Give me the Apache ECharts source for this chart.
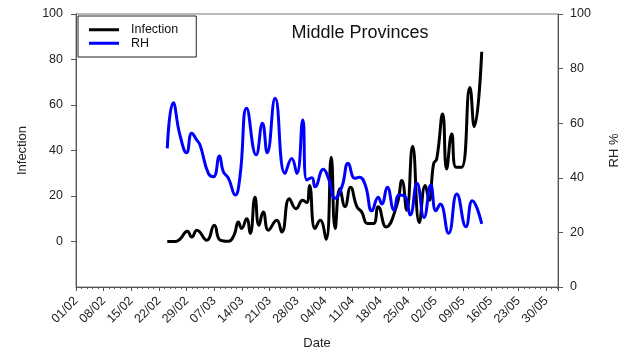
<!DOCTYPE html>
<html>
<head>
<meta charset="utf-8">
<script src="https://cdn.jsdelivr.net/npm/echarts@6/dist/echarts.min.js"></script>
<style>
  html, body { margin: 0; padding: 0; background: #fff; }
  #chart { width: 630px; height: 354px; }
</style>
</head>
<body>
<div id="chart"></div>
<script>
// Days counted from 01/02/2020 (day 0), weekly date ticks
const dateTicks = ['01/02','08/02','15/02','22/02','29/02','07/03','14/03','21/03','28/03',
  '04/04','11/04','18/04','25/04','02/05','09/05','16/05','23/05','30/05'];

// Infection counts (left axis)
const infDays = [23.1, 25.1, 26.3, 28.2, 29.3, 30.6, 33.1, 35.0, 36.5, 38.6, 40.0, 41.1, 41.9,
  43.2, 44.1, 45.3, 46.3, 47.4, 48.7, 50.8, 52.1, 54.0, 55.7, 57.4, 58.4, 59.1, 60.5, 61.8,
  63.3, 64.6, 65.6, 66.8, 68.1, 69.5, 71.1, 72.3, 73.8, 75.3, 76.5, 78.5, 81.2, 82.5, 83.7,
  85.2, 86.9, 88.4, 89.4, 90.5, 91.3, 92.8, 93.8, 95.1, 96.2, 97.6, 99.7, 100.8, 102.7];
const infVals = [0, 0, 1, 4.5, 2, 5, 0.6, 7.1, 0.6, 0.1, 2.8, 8.6, 5.7,
  10, 3.5, 19.5, 7.1, 13, 5, 9.3, 4.2, 18.8, 14.4, 18.1, 17.1, 24.6, 5.7, 9.3,
  1, 37, 5.7, 23.2, 15.3, 23.8, 15.3, 13, 7.9, 7.9, 15.3, 6.4, 15.9, 26.8, 13.7,
  41.9, 8.3, 24.6, 18.1, 34.1, 36.3, 56, 31.9, 47.3, 32.6, 32.6, 67.7, 50.5, 83.4];

// Relative humidity, % (right axis)
const rhDays = [23.1, 24.6, 26.3, 28.0, 29.3, 30.6, 31.4, 33.5, 34.8, 36.3, 37.3, 38.6, 40.3,
  41.5, 43.2, 45.6, 47.2, 48.4, 50.4, 52.9, 54.6, 55.9, 57.4, 58.4, 59.7, 60.5, 62.6, 63.9,
  65.6, 67.3, 68.9, 70.6, 71.7, 73.2, 74.9, 76.5, 77.4, 78.8, 80.5, 81.8, 83.3, 84.6, 86.3,
  88.1, 89.8, 91.1, 92.2, 94.3, 96.4, 98.7, 100.3, 102.7];
const rhVals = [50.8, 67.5, 55.7, 49.2, 56.3, 53.8, 52, 41.6, 40.4, 48, 42.2, 39.8, 33.7,
  40.4, 65.5, 48.4, 60, 49.2, 69.1, 41.6, 47.1, 41.6, 61.2, 39.2, 40, 36.7, 43.1, 39.8,
  32.5, 36.7, 45.3, 39.8, 40.2, 37.4, 27.9, 32.9, 30.4, 36.5, 28.2, 33.7, 33.1, 26.4, 38,
  25.5, 37.4, 27.9, 30.4, 19.7, 34.1, 22.1, 31.6, 23.1];

const yTicks = [0, 20, 40, 60, 80, 100];

const font = "'Liberation Sans', Arial, sans-serif";
const axisColor = '#555';
const textColor = '#222';

const chart = echarts.init(document.getElementById('chart'), null, { renderer: 'canvas' });

chart.setOption({
  animation: false,
  backgroundColor: '#fff',
  textStyle: { fontFamily: font },
  title: {
    text: 'Middle Provinces',
    left: 355,
    top: 19,
    textAlign: 'center',
    textStyle: { fontFamily: font, fontSize: 18, fontWeight: 'normal', color: '#111' }
  },
  legend: {
    orient: 'vertical',
    left: 78,
    top: 16,
    padding: [7, 18, 7, 11],
    itemGap: 0,
    itemWidth: 30,
    itemHeight: 3,
    icon: 'rect',
    borderColor: '#222',
    borderWidth: 1,
    textStyle: { fontFamily: font, fontSize: 12.5, color: '#111', lineHeight: 13.5, padding: [0, 0, 0, 7] },
    data: ['Infection', 'RH']
  },
  grid: {
    left: 76, right: 72, top: 14, bottom: 67,
    outerBoundsMode: 'none',
    containLabel: false,
    show: true, borderColor: '#777', borderWidth: 1, backgroundColor: 'transparent'
  },
  xAxis: {
    type: 'value',
    min: 0, max: 122, interval: 7,
    name: 'Date',
    nameLocation: 'middle',
    nameGap: 50,
    nameTextStyle: { fontFamily: font, fontSize: 13, color: textColor },
    splitLine: { show: false },
    axisLine: { onZero: false, lineStyle: { color: axisColor, width: 1 } },
    axisTick: { show: true, length: 4, inside: false, lineStyle: { color: axisColor } },
    minorTick: { show: true, splitNumber: 5, length: 2, lineStyle: { color: axisColor } },
    minorSplitLine: { show: false },
    axisLabel: {
      rotate: 45, margin: 12, fontSize: 12.5, color: textColor, fontFamily: font,
      formatter: v => (v % 7 === 0 && dateTicks[v / 7]) ? dateTicks[v / 7] : ''
    }
  },
  yAxis: [
    {
      type: 'value', position: 'left',
      min: -20, max: 100, interval: 20,
      name: 'Infection', nameLocation: 'middle', nameRotate: 90, nameGap: 47,
      nameTextStyle: { fontFamily: font, fontSize: 13, color: textColor },
      splitLine: { show: false },
      axisLine: { show: true, onZero: false, lineStyle: { color: axisColor } },
      axisTick: { show: true, length: 5, customValues: yTicks, lineStyle: { color: axisColor } },
      axisLabel: {
        margin: 13, fontSize: 12.5, color: textColor, fontFamily: font, customValues: yTicks,
        formatter: v => v < 0 ? '' : String(v)
      }
    },
    {
      type: 'value', position: 'right',
      min: 0, max: 100, interval: 20,
      name: 'RH %', nameLocation: 'middle', nameRotate: 90, nameGap: 50,
      nameTextStyle: { fontFamily: font, fontSize: 13, color: textColor },
      splitLine: { show: false },
      axisLine: { show: true, onZero: false, lineStyle: { color: axisColor } },
      axisTick: { show: true, length: 5, lineStyle: { color: axisColor } },
      axisLabel: { margin: 12, fontSize: 12.5, color: textColor, fontFamily: font }
    }
  ],
  series: [
    {
      name: 'Infection', type: 'line', yAxisIndex: 0,
      smooth: 0.5, symbol: 'none',
      lineStyle: { color: '#000', width: 3 }, itemStyle: { color: '#000' },
      data: infDays.map((d, i) => [d, infVals[i]])
    },
    {
      name: 'RH', type: 'line', yAxisIndex: 1,
      smooth: 0.5, symbol: 'none',
      lineStyle: { color: '#0000ff', width: 3 }, itemStyle: { color: '#0000ff' },
      data: rhDays.map((d, i) => [d, rhVals[i]])
    }
  ]
});
</script>
</body>
</html>
